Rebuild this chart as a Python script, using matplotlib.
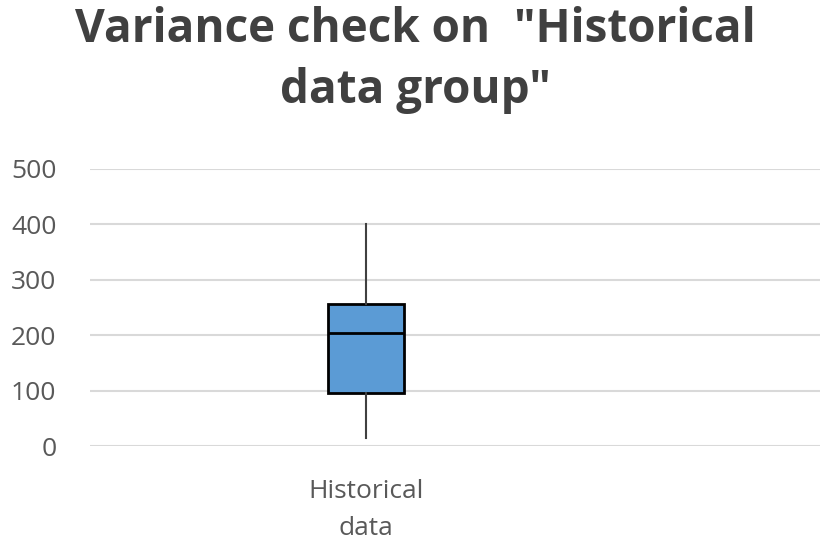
import matplotlib.pyplot as plt

# box plot summary
category = "Historical\ndata"
whisker_low = 14
q1 = 96
median = 204
q3 = 256
whisker_high = 400
y_ticks = [0, 100, 200, 300, 400, 500]

plt.rcParams['font.family'] = ['Open Sans', 'DejaVu Sans']

fig = plt.figure(figsize=(8.3, 5.5), dpi=100)
ax = fig.add_axes([0.108, 0.189, 0.88, 0.504])

stats = [{
    'label': category,
    'whislo': whisker_low,
    'q1': q1,
    'med': median,
    'q3': q3,
    'whishi': whisker_high,
    'fliers': [],
}]
ax.bxp(stats, positions=[1], widths=0.275, patch_artist=True, showcaps=False,
       boxprops=dict(facecolor='#5B9BD5', edgecolor='black', linewidth=2),
       medianprops=dict(color='black', linewidth=2),
       whiskerprops=dict(color='#404040', linewidth=1.5),
       zorder=3)

ax.set_xlim(0, 2.645)
ax.set_ylim(0, 500)
ax.set_yticks(y_ticks)
ax.set_xticks([1])
ax.set_xticklabels([category])
ax.tick_params(axis='both', length=0, labelsize=19, labelcolor='#595959')
ax.tick_params(axis='y', pad=24)
ax.tick_params(axis='x', pad=24)
for lbl in ax.get_xticklabels():
    lbl.set_linespacing(1.6)
ax.yaxis.grid(True, color='#D9D9D9', linewidth=1.5, zorder=0)
ax.set_axisbelow(True)
for s in ax.spines.values():
    s.set_visible(False)

fig.text(0.5, 0.99, 'Variance check on  "Historical\ndata group"', ha='center', va='top',
         fontsize=33, fontweight='bold', color='#404040', linespacing=1.4)

fig.savefig('out.png', dpi=100)
